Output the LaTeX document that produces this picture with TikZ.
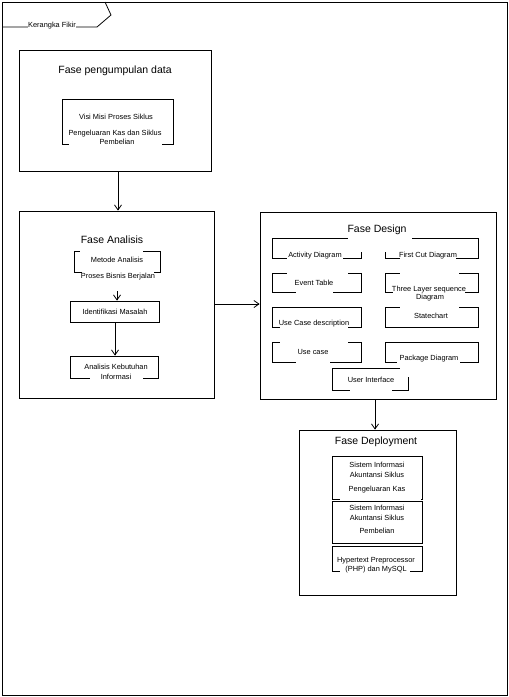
\documentclass[tikz,border=0pt]{standalone}
\usepackage{fontspec}
\setmainfont{Liberation Sans}
\usetikzlibrary{arrows.meta}
\newcommand{\mybox}[5]{\node[box, minimum width={(#4-#2)*1pt}, minimum height={(#5-#3)*1pt}] (#1) at ({(#2+#4)/2},{(#3+#5)/2}) {};}
\newcommand{\mymask}[4]{\fill[white] (#1,#2) rectangle (#3,#4);}
\begin{document}
\begin{tikzpicture}[x=1pt,y=-1pt, line width=0.8pt,
  box/.style={draw, inner sep=0pt, line width=0.8pt},
  txt/.style={inner sep=0pt, font=\fontsize{7.4}{9}\selectfont},
  ttl/.style={inner sep=0pt, font=\fontsize{10.5}{12}\selectfont},
  arr/.style={-{Straight Barb[length=5pt,width=7pt]}, line width=0.8pt}]
\useasboundingbox (0,0) rectangle (509,697);
% outer frame
\mybox{fr}{2}{2}{507}{695}
\draw (2,27) -- (97,27) -- (111,15) -- (105,2);
\mymask{28}{23}{76}{31}
\node[txt] (frl) at (52,26) {Kerangka Fikir};
% box 1
\mybox{b1}{19}{50}{211}{171}
\node[ttl] (t1) at (115,71) {Fase pengumpulan data};
\mybox{b1i}{62}{99}{173}{144}
\node[txt] (b1a) at (116,117) {Visi Misi Proses Siklus};
\mymask{69}{141}{162}{147}
\node[txt] (b1b) at (115,134) {Pengeluaran Kas dan Siklus};
\node[txt] (b1c) at (117,142) {Pembelian};
% box 2
\mybox{b2}{19}{211}{214}{398}
\node[ttl] (t2) at (112,240) {Fase Analisis};
\mybox{b2a}{74}{251}{160}{272}
\mymask{80}{247}{143}{255}
\mymask{82}{269}{154}{275}
\node[txt] (b2at) at (117,260) {Metode Analisis};
\node[txt] (b2bt) at (118,277) {Proses Bisnis Berjalan};
\mybox{b2c}{70}{301}{159}{322}
\node[txt] (b2ct) at (115,312) {Identifikasi Masalah};
\mybox{b2d}{70}{356}{158}{378}
\mymask{90}{375}{143}{381}
\node[txt] (b2dt) at (116,367) {Analisis Kebutuhan};
\node[txt] (b2dt2) at (116,377) {Informasi};
% box 3
\mybox{b3}{260}{212}{496}{399}
\mybox{d1}{272}{238}{361}{258}
\mybox{d2}{385}{238}{478}{258}
\mybox{d3}{272}{273}{361}{292}
\mybox{d4}{385}{273}{478}{292}
\mybox{d5}{272}{307}{361}{327}
\mybox{d6}{385}{307}{478}{327}
\mybox{d7}{272}{342}{361}{362}
\mybox{d8}{385}{342}{478}{362}
\mybox{d9}{332}{368}{408}{390}
\mymask{348}{236}{412}{252}
\mymask{287}{255}{343}{261}
\mymask{400}{255}{456}{261}
\mymask{287}{270}{348}{276}
\mymask{296}{289}{333}{295}
\mymask{400}{270}{459}{276}
\mymask{393}{289}{465}{295}
\mymask{280}{324}{348}{330}
\mymask{400}{304}{459}{310}
\mymask{280}{339}{348}{345}
\mymask{296}{359}{330}{365}
\mymask{397}{359}{460}{365}
\mymask{400}{365}{410}{377}
\mymask{350}{388}{392}{394}
\node[ttl] (t3) at (377,230) {Fase Design};
\node[txt] (d1t) at (315,256) {Activity Diagram};
\node[txt] (d2t) at (428,256) {First Cut Diagram};
\node[txt] (d3t) at (314,283) {Event Table};
\node[txt] (d4t) at (429,290) {Three Layer sequence};
\node[txt] (d4t2) at (430,298) {Diagram};
\node[txt] (d5t) at (314,324) {Use Case description};
\node[txt] (d6t) at (431,316) {Statechart};
\node[txt] (d7t) at (313,352) {Use case};
\node[txt] (d8t) at (429,359) {Package Diagram};
\node[txt] (d9t) at (371,380) {User Interface};
% box 4
\mybox{b4}{299}{430}{456}{595}
\node[ttl] (t4) at (376,442) {Fase Deployment};
\mybox{e1}{332}{456}{422}{499}
\mybox{e2}{332}{501}{422}{543}
\mybox{e3}{332}{546}{422}{571}
\mymask{340}{496}{421}{500}
\mymask{340}{568}{410}{574}
\node[txt] (e1a) at (377,465) {Sistem Informasi};
\node[txt] (e1b) at (377,475) {Akuntansi Siklus};
\node[txt] (e1c) at (377,490) {Pengeluaran Kas};
\node[txt] (e2a) at (377,508) {Sistem Informasi};
\node[txt] (e2b) at (377,518) {Akuntansi Siklus};
\node[txt] (e2c) at (377,531) {Pembelian};
\node[txt] (e3a) at (376,561) {Hypertext Preprocessor};
\node[txt] (e3b) at (376,570) {(PHP) dan MySQL};
% connectors
\coordinate (ax1) at (118,0);
\draw[arr] (b1.south -| ax1) -- (b2.north -| ax1);
\coordinate (ah) at (117,291);
\draw[arr] (ah) -- (ah |- b2c.north);
\coordinate (ax2) at (115,0);
\draw[arr] (b2c.south -| ax2) -- (b2d.north -| ax2);
\coordinate (ay) at (0,304);
\draw[arr] (b2.east |- ay) -- (b3.west |- ay);
\coordinate (ax3) at (375,0);
\draw[arr] (b3.south -| ax3) -- (b4.north -| ax3);
\end{tikzpicture}
\end{document}
